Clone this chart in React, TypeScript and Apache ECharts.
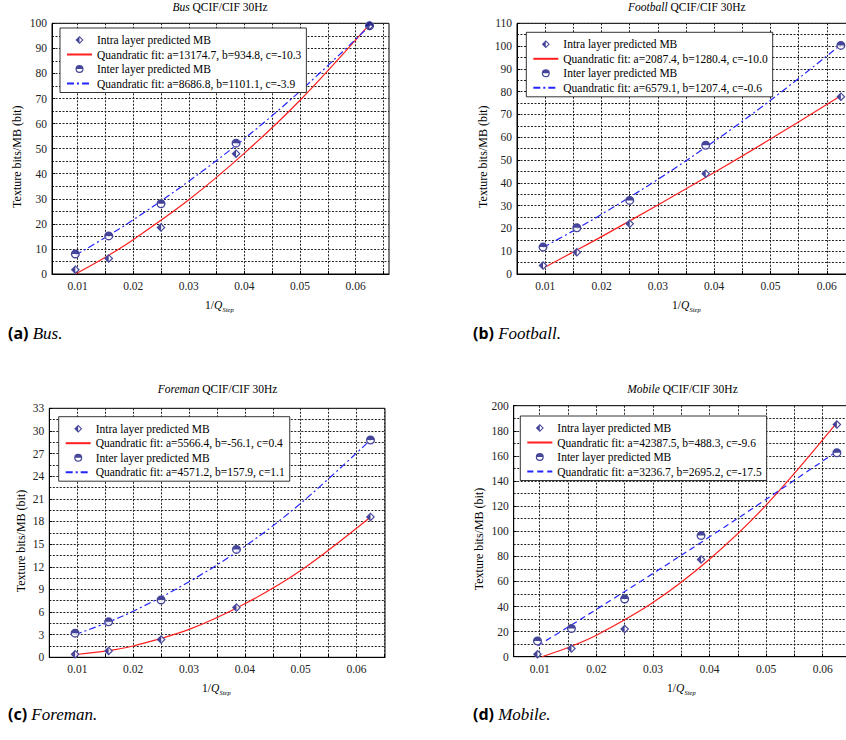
import React, { useEffect, useRef } from 'react';
import * as echarts from 'echarts';

// ---------- data ----------
const xPoints = [0.0096, 0.0156, 0.025, 0.0385, 0.0625];
const fitX = [0.0096, 0.015, 0.02, 0.03, 0.04, 0.05, 0.0625];
const mobileIntraFitX = [0.0104, 0.015, 0.02, 0.03, 0.04, 0.05, 0.0625];
const xLabelTicks = [0.01, 0.02, 0.03, 0.04, 0.05, 0.06];
const xGridTicks = [0.01, 0.015, 0.02, 0.025, 0.03, 0.035, 0.04, 0.045, 0.05, 0.055, 0.06, 0.065];

const busIntra = [1.7, 6.2, 18.5, 48.0, 99.0];
const busInter = [8.0, 15.2, 28.0, 52.2, 99.0];
const busIntraFit = [0.0, 6.7, 13.7, 29.6, 48.2, 69.3, 99.6];
const busInterFit = [7.5, 14.6, 21.6, 37.0, 54.0, 72.9, 98.9];

const footballIntra = [3.7, 9.5, 22.0, 44.0, 77.8];
const footballInter = [11.8, 20.3, 32.3, 56.5, 100.3];
const footballIntraFit = [2.5, 9.7, 16.4, 30.3, 44.5, 59.2, 78.2];
const footballInterFit = [11.6, 19.0, 26.2, 41.5, 58.2, 76.2, 100.6];

const foremanIntra = [0.4, 0.85, 2.35, 6.6, 18.6];
const foremanInter = [3.2, 4.7, 7.6, 14.3, 28.8];
const foremanIntraFit = [0.37, 0.81, 1.5, 3.7, 7.1, 11.5, 18.6];
const foremanInterFit = [3.0, 4.5, 6.1, 10.0, 14.7, 20.4, 28.8];

const mobileIntra = [2.0, 6.5, 22.0, 77.5, 185.0];
const mobileInter = [12.5, 22.5, 46.0, 96.5, 162.5];
const mobileIntraFit = [0.0, 7.3, 17.1, 43.2, 77.7, 120.8, 186.5];
const mobileInterFit = [8.7, 23.6, 37.7, 66.3, 95.5, 125.4, 163.6];

const NAME_INTRA = 'Intra layer predicted MB';
const NAME_INTER = 'Inter layer predicted MB';

// ---------- styles ----------
const SERIF = 'Liberation Serif, serif';
const SANS = 'Noto Sans, sans-serif';
const NAVY = '#16167f';
const RED = '#ff1f1f';
const BLUE = '#2424ff';
const GRID_LINE = { color: '#222', type: [2, 1.5] as any, width: 1 };
const DIAMOND_HALF = 'path://M5 0L10 5L5 10L0 5Z M5 1.8L1.8 5L5 8.2L8.2 5Z M5 0L5 10L0 5Z';
const CIRCLE_HALF =
  'path://M0 5A5 5 0 1 1 10 5A5 5 0 1 1 0 5Z M1.5 5A3.5 3.5 0 1 0 8.5 5A3.5 3.5 0 1 0 1.5 5Z M0 5A5 5 0 0 1 10 5Z';

interface Cfg {
  key: string;
  divLeft: number;
  divTop: number;
  divWidth: number;
  grid: { left: number; top: number; width: number; height: number };
  xMin: number;
  xMax: number;
  yMax: number;
  yStep: number;
  minorSplit: number;
  intra: number[];
  inter: number[];
  intraFitX: number[];
  intraFit: number[];
  interFit: number[];
  intraFitName: string;
  interFitName: string;
  interDash: number[];
  titleItalic: string;
  titleX: number;
  titleY: number;
  yNameX: number;
  yNameY: number;
  xNameX: number;
  xNameY: number;
  legendLeft: number;
  legendTop: number;
  capLetter: string;
  capName: string;
  capX: number;
  capY: number;
}

const DASHDOT = [7, 3, 2, 3];
const DASHED = [6, 4];

const CHARTS: Cfg[] = [
  {
    key: 'a', divLeft: 0, divTop: 0, divWidth: 423,
    grid: { left: 52, top: 23.3, width: 337, height: 250.7 },
    xMin: 0.0054, xMax: 0.066, yMax: 100, yStep: 10, minorSplit: 2,
    intra: busIntra, inter: busInter, intraFitX: fitX, intraFit: busIntraFit, interFit: busInterFit,
    intraFitName: 'Quandratic fit: a=13174.7, b=934.8, c=-10.3',
    interFitName: 'Quandratic fit: a=8686.8, b=1101.1, c=-3.9',
    interDash: DASHDOT,
    titleItalic: 'Bus', titleX: 220, titleY: 7.3,
    yNameX: 16.7, yNameY: 156.7, xNameX: 205, xNameY: 305,
    legendLeft: 60, legendTop: 28,
    capLetter: '(a)', capName: 'Bus.', capX: 8, capY: 333,
  },
  {
    key: 'b', divLeft: 423, divTop: 0, divWidth: 460,
    grid: { left: 94, top: 23.3, width: 343, height: 250.7 },
    xMin: 0.00498, xMax: 0.0659, yMax: 110, yStep: 10, minorSplit: 2,
    intra: footballIntra, inter: footballInter, intraFitX: fitX, intraFit: footballIntraFit, interFit: footballInterFit,
    intraFitName: 'Quandratic fit: a=2087.4, b=1280.4, c=-10.0',
    interFitName: 'Quandratic fit: a=6579.1, b=1207.4, c=-0.6',
    interDash: DASHDOT,
    titleItalic: 'Football', titleX: 263.8, titleY: 7.3,
    yNameX: 60, yNameY: 156.7, xNameX: 249, xNameY: 305,
    legendLeft: 103.3, legendTop: 32.3,
    capLetter: '(b)', capName: 'Football.', capX: 50, capY: 333,
  },
  {
    key: 'c', divLeft: 0, divTop: 370, divWidth: 423,
    grid: { left: 49.3, top: 38.3, width: 335.7, height: 249 },
    xMin: 0.00498, xMax: 0.0651, yMax: 33, yStep: 3, minorSplit: 2,
    intra: foremanIntra, inter: foremanInter, intraFitX: fitX, intraFit: foremanIntraFit, interFit: foremanInterFit,
    intraFitName: 'Quandratic fit: a=5566.4, b=-56.1, c=0.4',
    interFitName: 'Quandratic fit: a=4571.2, b=157.9, c=1.1',
    interDash: DASHDOT,
    titleItalic: 'Foreman', titleX: 217.5, titleY: 19,
    yNameX: 20.7, yNameY: 171, xNameX: 202, xNameY: 318,
    legendLeft: 58.7, legendTop: 46.7,
    capLetter: '(c)', capName: 'Foreman.', capX: 8, capY: 344,
  },
  {
    key: 'd', divLeft: 423, divTop: 370, divWidth: 460,
    grid: { left: 90.7, top: 35.7, width: 343, height: 251 },
    xMin: 0.0054, xMax: 0.066, yMax: 200, yStep: 20, minorSplit: 2,
    intra: mobileIntra, inter: mobileInter, intraFitX: mobileIntraFitX, intraFit: mobileIntraFit, interFit: mobileInterFit,
    intraFitName: 'Quandratic fit: a=42387.5, b=488.3, c=-9.6',
    interFitName: 'Quandratic fit: a=3236.7, b=2695.2, c=-17.5',
    interDash: DASHED,
    titleItalic: 'Mobile', titleX: 259.5, titleY: 19,
    yNameX: 56, yNameY: 169, xNameX: 244, xNameY: 318,
    legendLeft: 97.3, legendTop: 46,
    capLetter: '(d)', capName: 'Mobile.', capX: 50, capY: 344,
  },
];

const pairs = (xs: number[], ys: number[]) => xs.map((x, i) => [x, ys[i]]);

function txt(text: string, x: number, y: number, extra: any = {}, rich?: any, rotation = 0) {
  const style: any = {
    text,
    fontFamily: SERIF,
    fontSize: 11.5,
    fill: '#000',
    textAlign: extra.align || 'center',
    align: extra.align || 'center',
    textVerticalAlign: 'middle',
    verticalAlign: 'middle',
    ...extra,
  };
  if (rich) style.rich = rich;
  return { type: 'text', x, y, rotation, style, silent: true };
}

const hiddenIcon = { color: 'rgba(0,0,0,0)', borderWidth: 0, opacity: 0 };

function makeOption(c: Cfg): any {
  const richI = { i: { fontStyle: 'italic', fontFamily: SERIF, fontSize: 11.5 } };
  return {
    animation: false,
    backgroundColor: '#fff',
    textStyle: { fontFamily: SERIF },
    grid: {
      ...c.grid,
      show: true,
      backgroundColor: '#fff',
      borderColor: '#000',
      borderWidth: 1,
      containLabel: false,
      outerBoundsMode: 'none',
    },
    xAxis: {
      type: 'value',
      min: c.xMin,
      max: c.xMax,
      axisLine: { show: true, lineStyle: { color: '#000', width: 1 } },
      axisTick: { show: true, inside: true, length: 3, customValues: xGridTicks, lineStyle: { color: '#000' } },
      axisLabel: {
        customValues: xLabelTicks,
        formatter: (v: number) => v.toFixed(2),
        color: '#222',
        fontFamily: SERIF,
        fontSize: 11.5,
        margin: 6,
      },
      splitLine: { show: true, lineStyle: GRID_LINE },
    },
    yAxis: {
      type: 'value',
      min: 0,
      max: c.yMax,
      interval: c.yStep,
      axisLine: { show: true, lineStyle: { color: '#000', width: 1 } },
      axisTick: { show: true, inside: true, length: 3, lineStyle: { color: '#000' } },
      axisLabel: { color: '#222', fontFamily: SERIF, fontSize: 11.5, margin: 5 },
      splitLine: { show: true, lineStyle: GRID_LINE },
      minorTick: { show: false, splitNumber: c.minorSplit },
      minorSplitLine: { show: true, lineStyle: GRID_LINE },
    },
    legend: {
      data: [
        { name: NAME_INTRA },
        { name: c.intraFitName, itemStyle: hiddenIcon },
        { name: NAME_INTER },
        { name: c.interFitName, itemStyle: hiddenIcon },
      ],
      orient: 'vertical',
      left: c.legendLeft,
      top: c.legendTop,
      backgroundColor: '#fff',
      borderColor: '#000',
      borderWidth: 0.8,
      padding: [6, 5, 3, 6],
      itemWidth: 25,
      itemHeight: 8,
      itemGap: 2.5,
      selectedMode: false,
      textStyle: { fontFamily: SERIF, fontSize: 11.5, color: '#000', lineHeight: 12 },
    },
    graphic: [
      txt(`{i|${c.titleItalic}} QCIF/CIF 30Hz`, c.titleX, c.titleY, {}, richI),
      txt('Texture bits/MB (bit)', c.yNameX, c.yNameY, { fontSize: 12 }, undefined, Math.PI / 2),
      txt('1/{i|Q}', c.xNameX, c.xNameY, { align: 'left' }, richI),
      txt('Step', c.xNameX + 17.5, c.xNameY + 4, { align: 'left', fontSize: 6.5, fontStyle: 'italic' }),
      txt(`{b|${c.capLetter}} {i|${c.capName}}`, c.capX, c.capY, { align: 'left', fontSize: 17 }, {
        b: { fontFamily: SANS, fontWeight: 'bold', fontSize: 16 },
        i: { fontFamily: SERIF, fontStyle: 'italic', fontSize: 17 },
      }),
    ],
    series: [
      {
        name: 'bgIntra', type: 'scatter', data: pairs(xPoints, c.intra), symbol: 'diamond', symbolSize: 9,
        itemStyle: { color: '#fff' }, silent: true, z: 3,
      },
      {
        name: 'bgInter', type: 'scatter', data: pairs(xPoints, c.inter), symbol: 'circle', symbolSize: 9,
        itemStyle: { color: '#fff' }, silent: true, z: 3,
      },
      {
        name: NAME_INTRA, type: 'scatter', data: pairs(xPoints, c.intra), symbol: DIAMOND_HALF, symbolSize: 9,
        itemStyle: { color: NAVY }, z: 4,
      },
      {
        name: c.intraFitName, type: 'line', data: pairs(c.intraFitX, c.intraFit), symbol: 'none', smooth: 0.35,
        lineStyle: { color: RED, width: 1.2 }, itemStyle: { color: RED }, z: 2,
      },
      {
        name: NAME_INTER, type: 'scatter', data: pairs(xPoints, c.inter), symbol: CIRCLE_HALF, symbolSize: 9,
        itemStyle: { color: NAVY }, z: 4,
      },
      {
        name: c.interFitName, type: 'line', data: pairs(fitX, c.interFit), symbol: 'none', smooth: 0.35,
        lineStyle: { color: BLUE, width: 1.2, type: c.interDash }, itemStyle: { color: BLUE }, z: 2,
      },
    ],
  };
}

function Chart({ cfg }: { cfg: Cfg }) {
  const ref = useRef<HTMLDivElement>(null);
  useEffect(() => {
    if (!ref.current) return;
    const chart = echarts.init(ref.current, undefined, { renderer: 'svg' });
    chart.setOption(makeOption(cfg));
    return () => chart.dispose();
  }, [cfg]);
  return (
    <div
      ref={ref}
      style={{ position: 'absolute', left: cfg.divLeft, top: cfg.divTop, width: cfg.divWidth, height: 370 }}
    />
  );
}

export default function App() {
  useEffect(() => {
    document.body.style.margin = '0';
    document.body.style.overflow = 'hidden';
  }, []);
  return (
    <div
      style={{ position: 'fixed', left: 0, top: 0, width: 846, height: 740, overflow: 'hidden', background: '#fff' }}
    >
      {CHARTS.map((c) => (
        <Chart key={c.key} cfg={c} />
      ))}
    </div>
  );
}
